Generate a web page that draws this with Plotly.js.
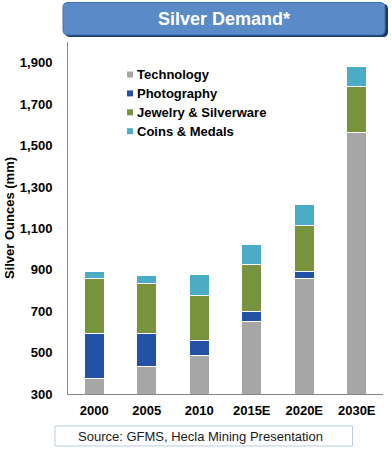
<!DOCTYPE html>
<html>
<head>
<meta charset="utf-8">
<script src="https://cdn.plot.ly/plotly-3.0.1.min.js"></script>
<style>
  html, body { margin: 0; padding: 0; background: #fff; }
  #chart { width: 392px; height: 454px; }
</style>
</head>
<body>
<div id="chart"></div>
<script>
// ---- Data ----
const years = ["2000", "2005", "2010", "2015E", "2020E", "2030E"];
const technology = [376, 434, 485, 651, 857, 1562];
const photography = [215, 157, 74, 47, 36, 0];
const jewelry = [266, 242, 216, 227, 220, 222];
const coins = [34, 37, 100, 95, 100, 100];
const seriesNames = ["Technology", "Photography", "Jewelry & Silverware", "Coins & Medals"];
const yTickVals = [300, 500, 700, 900, 1100, 1300, 1500, 1700, 1900];
const yTickText = ["300", "500", "700", "900", "1,100", "1,300", "1,500", "1,700", "1,900"];
const chartTitle = "Silver Demand*";
const yTitle = "Silver Ounces (mm)";
const sourceText = "Source: GFMS, Hecla Mining Presentation";

const colors = ["#A6A6A6", "#2251A5", "#77933C", "#4BACC6"];
const seriesValues = [technology, photography, jewelry, coins];

// plot area geometry (pixels)
const W = 392, H = 454;
const L = 68, R = 383, T = 42, B = 394;
const px = x => (x - L) / (R - L);
const py = y => (B - y) / (B - T);

const FONT = "Arial, 'Liberation Sans', sans-serif";

const traces = seriesValues.map((vals, i) => ({
  type: "bar",
  x: years,
  y: vals,
  name: seriesNames[i],
  marker: { color: colors[i], line: { color: "#FFFFFF", width: 1 } },
  width: 0.38,
  showlegend: false,
  hoverinfo: "x+y+name"
}));

function roundRect(x0, y0, x1, y1, r) {
  const rx = r / (R - L), ry = r / (B - T);
  const a = px(x0), b = px(x1), top = py(y0), bot = py(y1);
  return `M${a + rx},${top} L${b - rx},${top} Q${b},${top} ${b},${top - ry} ` +
         `L${b},${bot + ry} Q${b},${bot} ${b - rx},${bot} ` +
         `L${a + rx},${bot} Q${a},${bot} ${a},${bot + ry} ` +
         `L${a},${top - ry} Q${a},${top} ${a + rx},${top} Z`;
}

const shapes = [
  // title box shadow
  { type: "path", xref: "paper", yref: "paper", path: roundRect(65, 4, 388, 37, 5),
    fillcolor: "#1E3A63", line: { width: 0 }, layer: "above" },
  // title box
  { type: "path", xref: "paper", yref: "paper", path: roundRect(63, 2.5, 385, 35, 5),
    fillcolor: "#5A8AC8", line: { color: "#3F6EAF", width: 1 }, layer: "above" },
  // source box
  { type: "rect", xref: "paper", yref: "paper",
    x0: px(55), x1: px(352.5), y0: py(426), y1: py(446),
    fillcolor: "#FFFFFF", line: { color: "#B9CDE5", width: 1 }, layer: "above" }
];

const annotations = [
  { xref: "paper", yref: "paper", x: px(224), y: py(19.5), xanchor: "center", yanchor: "middle",
    text: chartTitle, showarrow: false,
    font: { family: FONT, size: 18, color: "#FFFFFF", weight: "bold" } },
  { xref: "paper", yref: "paper", x: px(76), y: py(436.5), xanchor: "left", yanchor: "middle",
    text: sourceText, showarrow: false,
    font: { family: "'Liberation Sans', Arial, sans-serif", size: 13, color: "#1A1A1A" } }
];

// custom legend (small square swatches + bold labels)
const legTop = 74.5, legStep = 18.9, swX = 127, swS = 6, txtX = 135;
seriesNames.forEach((name, i) => {
  const cy = legTop + i * legStep;
  shapes.push({ type: "rect", xref: "paper", yref: "paper",
    x0: px(swX), x1: px(swX + swS), y0: py(cy - swS / 2), y1: py(cy + swS / 2),
    fillcolor: colors[i], line: { width: 0 }, layer: "above" });
  annotations.push({ xref: "paper", yref: "paper", x: px(txtX), y: py(cy), xanchor: "left", yanchor: "middle",
    text: name, showarrow: false,
    font: { family: FONT, size: 13, color: "#000000", weight: "bold" } });
});

const layout = {
  width: W, height: H,
  margin: { l: L, r: W - R, t: T, b: H - B, pad: 0 },
  paper_bgcolor: "#FFFFFF",
  plot_bgcolor: "#FFFFFF",
  barmode: "stack",
  font: { family: FONT, size: 13, color: "#000000" },
  xaxis: {
    type: "category",
    showgrid: false,
    zeroline: false,
    showline: true,
    linecolor: "#868686",
    linewidth: 1,
    ticks: "",
    tickfont: { family: FONT, size: 13, color: "#000000", weight: "bold" },
    ticklabelstandoff: 4,
    fixedrange: true
  },
  yaxis: {
    range: [300, 2000],
    showgrid: false,
    zeroline: false,
    showline: true,
    linecolor: "#868686",
    linewidth: 1,
    ticks: "",
    tickvals: yTickVals,
    ticktext: yTickText,
    tickfont: { family: FONT, size: 13, color: "#000000", weight: "bold" },
    ticklabelstandoff: 12,
    title: { text: yTitle, font: { family: FONT, size: 13, color: "#000000", weight: "bold" }, standoff: 2 },
    fixedrange: true
  },
  showlegend: false,
  shapes: shapes,
  annotations: annotations
};

Plotly.newPlot("chart", traces, layout, { displayModeBar: false, staticPlot: true });
</script>
</body>
</html>
